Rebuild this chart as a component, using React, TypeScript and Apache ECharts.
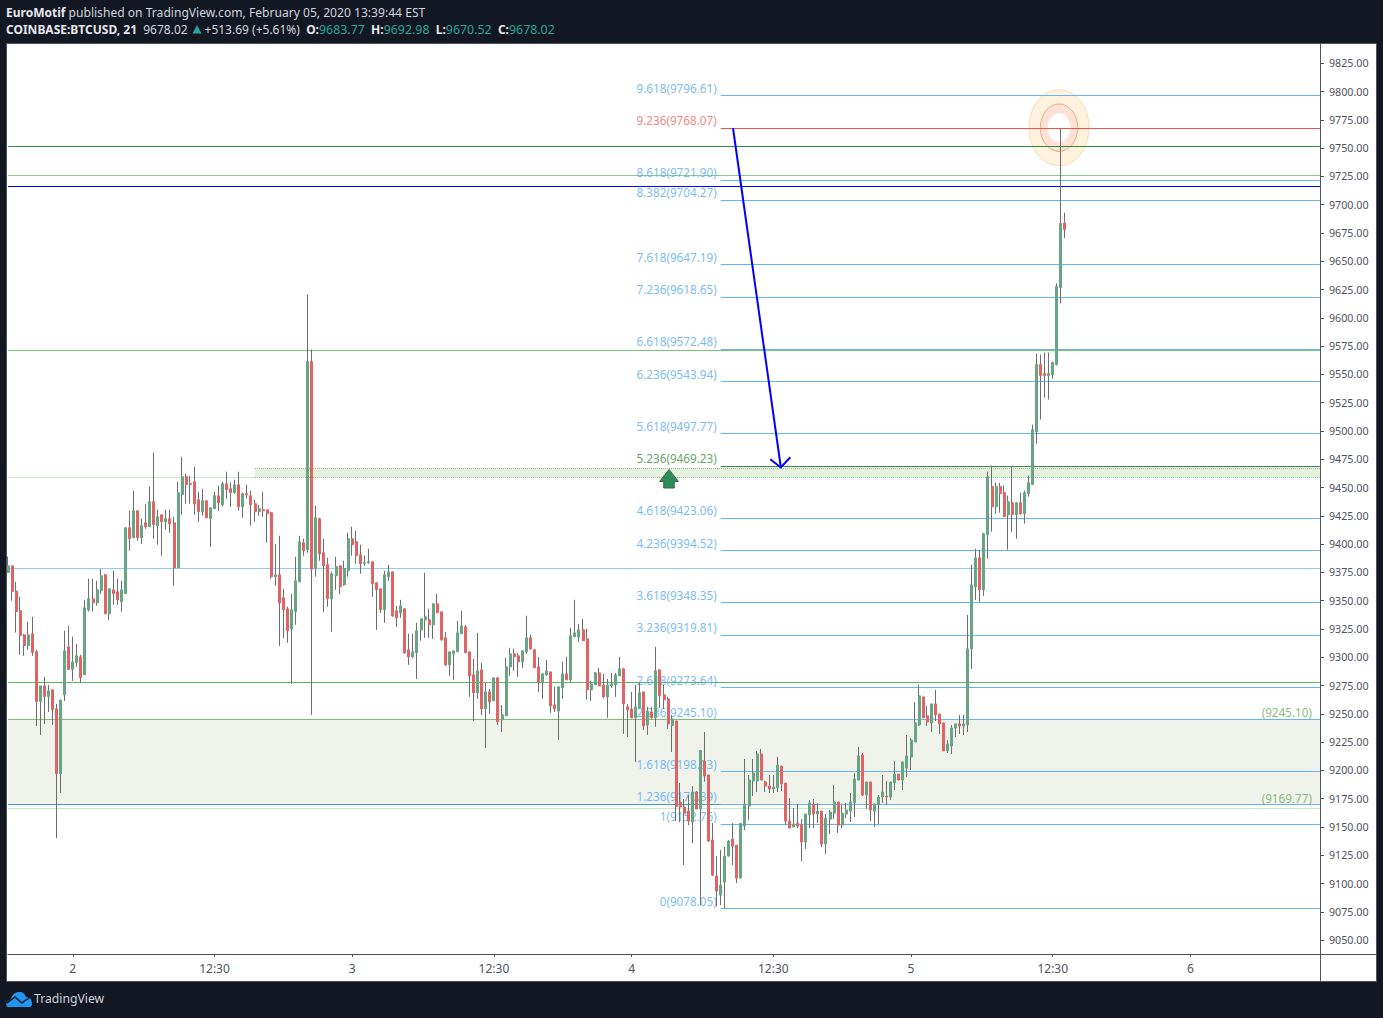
import React, { useEffect, useRef } from "react";
import * as echarts from "echarts";

const slotCount = 325;
const xTickLabels: Record<number, string> = { 16: "2", 51: "12:30", 85: "3", 120: "12:30", 154: "4", 189: "12:30", 223: "5", 258: "12:30", 292: "6" };
const yTicks = [9050, 9075, 9100, 9125, 9150, 9175, 9200, 9225, 9250, 9275, 9300, 9325, 9350, 9375, 9400, 9425, 9450, 9475, 9500, 9525, 9550, 9575, 9600, 9625, 9650, 9675, 9700, 9725, 9750, 9775, 9800, 9825];

const opens = [
  9375,9380.9,9358.5,9341.1,9319.8,9310.4,9320.7,9304.8,9260.9,9274.7,
  9265.3,9271.2,9254.4,9197.2,9266.8,9309.2,9289.2,9295.4,9300.4,9284.7,
  9342,9351.7,9348.1,9359.1,9372.9,9338.4,9359.6,9357.9,9349,9356.4,
  9414.5,9405.7,9429.5,9405.7,9418.9,9415.4,9437.5,9416.3,9426,9419.8,
  9422.5,9418.9,9379.1,9443.7,9459.6,9453.4,9455.2,9439.3,9428.7,9438.4,
  9422.5,9431.3,9442.8,9434.8,9453.4,9449,9445.5,9452.5,9433.1,9444.6,
  9442.8,9435.7,9428.7,9430.4,9430.4,9427.8,9371.2,9372.9,9352.6,9342.8,
  9325.1,9340.2,9366.7,9401.2,9395,9561.4,9378.2,9422.5,9392.4,9381.8,
  9351.7,9372,9380.9,9364.1,9376.5,9404.8,9402.1,9390.6,9383,9383.6,
  9384.4,9365.9,9360.6,9342,9371.2,9375.6,9341.1,9339.3,9342.9,9306.6,
  9300.4,9303.9,9324.3,9333.1,9333.1,9328.7,9347.3,9340.2,9317.2,9293.3,
  9303.1,9304.8,9320.8,9326.9,9304.8,9284.5,9268.6,9288.9,9254.4,9269.4,
  9261.5,9281.8,9244.7,9248.2,9291.6,9303.1,9301.3,9296,9304.8,9317.2,
  9306.6,9291.6,9278.3,9284.5,9287.1,9257.9,9252.6,9273,9285.4,9280.1,
  9318.1,9318.1,9324.3,9316.3,9271.2,9275.6,9286.2,9275.6,9265,9274.7,
  9275.6,9283.6,9289.8,9256.2,9254.4,9246.4,9255.3,9269.4,9240.2,9251.7,
  9246.4,9288.9,9266.8,9263.2,9239.6,9243.7,9172.1,9167.7,9164.1,9154.4,
  9180.9,9165.9,9208.3,9196,9138.5,9106.6,9089.8,9101.3,9124.3,9139.3,
  9134,9104.8,9150.8,9168.5,9190.7,9190.7,9214.5,9189.8,9186.2,9183.6,
  9184.5,9203.9,9188.9,9155.3,9150,9153.2,9151.7,9136.7,9160.6,9170.3,
  9161.5,9164.1,9134.9,9157,9162.3,9172.1,9151.7,9161.5,9164.1,9171.2,
  9191.5,9213.7,9178.3,9189.8,9164.1,9169.4,9176.5,9177.4,9176.5,9188.9,
  9196.8,9191.5,9202.2,9211.9,9225.2,9240.2,9265,9248.2,9242,9258.8,
  9249.9,9242,9217.2,9221.6,9237.5,9241.1,9239.3,9240.2,9307.4,9362.3,
  9387.9,9359.6,9408.3,9450.8,9433.1,9450.8,9445.5,9426,9436.6,9426,
  9436.6,9426.9,9444.6,9452.6,9499.4,9558.7,9550.8,9549,9549.9,9558.7,9626.8,9683.77,
];
const closes = [
  9380.9,9358.2,9340.5,9319.2,9310.4,9319.8,9304.2,9260.9,9274.7,9265.3,
  9270.3,9253.8,9197.2,9262.3,9305.7,9289.2,9295.9,9301.3,9282.1,9343.7,
  9351.7,9348.1,9359.6,9372,9338.4,9360.5,9356.4,9350.8,9359.6,9414.5,
  9404.8,9429.5,9405.7,9416.3,9415.4,9437.5,9417.2,9424.2,9419.8,9422.5,
  9418,9379.1,9445.5,9459.6,9452.5,9452.8,9435.7,9428.7,9438.4,9423.3,
  9432.2,9442.8,9436.6,9453.4,9448.1,9445.5,9452.5,9433.1,9444.6,9443.7,
  9434.8,9428.7,9431.3,9429.5,9426.9,9371.2,9372.9,9348.1,9342,9323.4,
  9342,9367.6,9402.1,9394.2,9561.4,9377.9,9423.3,9391.5,9380.9,9351.7,
  9373.8,9380,9362.3,9378.6,9404.8,9399.5,9389.8,9382.7,9383.6,9384.4,
  9365,9359.7,9342,9372.9,9375.6,9336.7,9334.9,9345.5,9303.9,9300.4,
  9304.8,9323.4,9334,9335.8,9328.7,9347.3,9339.3,9315.4,9293.3,9304.8,
  9305.7,9321.6,9327.8,9303.9,9283.6,9268.6,9288,9254.4,9269.4,9260.6,
  9281.8,9242.9,9249.1,9291.6,9303.1,9300.4,9296,9305.7,9317.2,9307.5,
  9290.7,9278.3,9285.4,9288,9257.1,9254.4,9273.9,9285.4,9280.1,9319,
  9321.6,9324.3,9314.6,9271.2,9276.5,9286.2,9274.7,9265,9275.6,9276.5,
  9284.5,9289.8,9258.8,9253.5,9246.4,9256.2,9268.6,9239.4,9252.6,9246.4,
  9288,9265.9,9262.4,9241.1,9245.5,9167.9,9167.7,9162.3,9155.3,9180.9,
  9165.9,9217.5,9195.1,9137.6,9107.5,9093.3,9098.6,9124.3,9137.6,9133.1,
  9104.8,9153.2,9170.3,9191.5,9197.7,9214.5,9191.5,9186.2,9183.6,9185.3,
  9204.8,9188,9155.3,9149.1,9152.6,9150.8,9136.7,9161.5,9171.2,9161.5,
  9164.1,9134.9,9157.9,9163.2,9172.1,9151.7,9162.3,9165,9172.1,9192.4,
  9212.8,9178.3,9189.8,9165,9170.3,9176.5,9180.9,9176.5,9189.8,9196.8,
  9191.5,9207.5,9212.8,9226.9,9242,9265.9,9246.4,9242.8,9258.8,9249,
  9241.1,9217.2,9223.4,9237.5,9241.1,9239.3,9241.1,9307.4,9364,9387.9,
  9359.6,9409.2,9459.6,9433.1,9450.8,9444.6,9424.3,9437.5,9426,9436.6,
  9426.9,9445.5,9454.3,9501.2,9558.7,9549,9549,9550.8,9560.5,9627.7,9683.5,9678.02,
];
const lows = [
  9375,9349.9,9321.9,9302.1,9301.3,9306.6,9301.3,9239.3,9231.4,9241.1,
  9251.7,9240.2,9140.2,9180.1,9261.4,9288.9,9279.1,9291.5,9277.4,9284.7,
  9340.5,9340.5,9345.5,9356.1,9338.4,9333.1,9346.4,9346.4,9340.2,9356.4,
  9394.2,9405.7,9403,9400.3,9413.6,9415.4,9404.8,9399.5,9389.7,9412.7,
  9410.1,9363.2,9379.1,9426,9435.7,9435.7,9426,9419.8,9425.1,9423.3,
  9397.7,9431.3,9429.5,9433.1,9440.2,9433.1,9444.6,9429.5,9423.3,9440.2,
  9416.3,9419.8,9425.1,9424.2,9401.2,9369.4,9363.2,9310.1,9317.2,9312.8,
  9276.5,9328.7,9366.7,9389.7,9392.4,9249.1,9371.2,9385.3,9340.2,9344.6,
  9322.5,9359.6,9356.1,9363.2,9371.2,9389.8,9382.7,9373.8,9380.9,9382.7,
  9353.5,9324.3,9339.3,9330.5,9367.6,9335.8,9326.9,9334.9,9303.1,9293.3,
  9299.5,9280.9,9314.6,9317.2,9317.2,9316.3,9339.3,9314.6,9292.4,9283.6,
  9280.1,9304.8,9320.8,9303.9,9265,9243.8,9263.2,9249.1,9219.9,9250,
  9261.5,9240.2,9234,9248.2,9283.6,9288,9282.7,9290.7,9303.1,9306.6,
  9290.7,9269.4,9263.2,9283.6,9250.9,9251.7,9227,9263.2,9280.1,9278.3,
  9318.1,9313.7,9314.6,9262.4,9261.5,9275.6,9274.7,9264.1,9246.4,9273,
  9265,9283.6,9232.3,9229.6,9246.4,9207.5,9254.4,9235.8,9231.4,9245.6,
  9238.5,9255.3,9254.4,9236.7,9216.3,9155.3,9154.4,9116.3,9151.7,9135.8,
  9165.9,9080.9,9190,9136.7,9106.6,9080.1,9080.9,9078,9124,9116.3,
  9100.4,9104.8,9147.3,9156.1,9177.4,9180.9,9191.5,9180.9,9180,9180,
  9180.9,9181.8,9151.7,9149.1,9150,9149.1,9119.9,9130.5,9149.1,9149.1,
  9153.5,9132.3,9126.1,9143.8,9157,9144.6,9149.1,9157.9,9154.4,9158.8,
  9191.5,9177.4,9165.9,9155.3,9150,9152.6,9171.2,9169.4,9173.8,9182.7,
  9191.5,9182.7,9194.2,9200.4,9225.2,9239.3,9246.4,9239.3,9234,9243.7,
  9232.2,9217.2,9215.4,9214.5,9229.6,9232.2,9231.3,9234,9289.7,9350.8,
  9349,9354.3,9387.1,9411,9426.9,9427.8,9424.3,9395.1,9411,9404.8,
  9426,9418.1,9441.9,9452.6,9488.8,9510.1,9529.5,9527.8,9546.3,9557.8,9612.7,9670.52,
];
const highs = [
  9389.1,9380.9,9366.7,9353.5,9320.7,9331.3,9335.8,9306.6,9274.7,9282.7,
  9275.6,9271.2,9258.8,9262.3,9323.4,9327.8,9318.1,9311.9,9302.1,9350.8,
  9369.4,9369.4,9367.6,9378.2,9373.8,9360.5,9376.5,9369.4,9367.6,9414.5,
  9429.5,9447.2,9429.5,9422.5,9435.7,9450.8,9480.9,9430.4,9426,9430.4,
  9430.4,9424.2,9455.2,9477.3,9462.3,9460.5,9468.5,9446.3,9449,9438.4,
  9432.2,9446.3,9451.7,9455.2,9464,9454.3,9457,9464,9445.5,9452.5,
  9447.2,9439.3,9434.8,9446.3,9430.4,9428.7,9400.3,9407.4,9360.5,9344.6,
  9356.1,9388.8,9407.4,9404.8,9620.6,9572,9434,9423.3,9404.8,9388,
  9375.6,9388.8,9380.9,9385.3,9410.1,9415.4,9411.9,9399.5,9389.8,9395.9,
  9384.4,9365.9,9360.6,9376.5,9381.8,9375.6,9345.5,9350.8,9342.9,9320.8,
  9320.8,9330.5,9334,9374.7,9342.9,9347.3,9356.1,9340.2,9322.5,9304.8,
  9305.7,9332.3,9341.1,9328.7,9304.8,9298.6,9321.6,9295.1,9277.4,9272.1,
  9281.8,9282.7,9257.9,9299.5,9308.4,9307.5,9303.9,9305.7,9336.7,9319.9,
  9307.5,9300.4,9286.2,9297.7,9287.1,9273.9,9273.9,9296,9300.4,9326.1,
  9350.8,9329.6,9334,9325.2,9279.2,9287.1,9290.7,9285.4,9280.9,9286.2,
  9286.2,9300.4,9290.7,9258.8,9269.4,9275.6,9277.4,9269.4,9256.2,9256.2,
  9309.3,9288.9,9275.6,9265,9249,9243.7,9188.9,9174.7,9178.3,9186.2,
  9181.8,9218.1,9234,9196,9153.5,9124.3,9129.6,9132.3,9138.5,9153.5,
  9134,9153.2,9210.1,9196,9210.1,9217.2,9219,9190.7,9196,9196,
  9211.9,9203.9,9188.9,9175.6,9166.8,9170.3,9157,9161.5,9173.8,9174.7,
  9171.2,9164.1,9161.5,9165,9187.1,9172.1,9169.4,9171.2,9180,9197.7,
  9220.7,9215.4,9189.8,9189.8,9170.3,9178.3,9196,9190.7,9189.8,9208.3,
  9196.8,9207.5,9231.3,9228.7,9260.5,9275.6,9265,9257,9258.8,9271.2,
  9249.9,9242,9226.9,9240.2,9241.1,9249,9249,9337.5,9381.7,9395.9,
  9395,9410,9464.1,9469.4,9454.3,9454.3,9451.7,9442.8,9468.5,9436.6,
  9445.5,9447.3,9460.5,9505.6,9568.5,9567.6,9569.3,9569.3,9561.4,9630.4,9768,9692.98,
];

const fibRatios = ["9.618", "9.236", "8.618", "8.382", "7.618", "7.236", "6.618", "6.236", "5.618", "5.236", "4.618", "4.236", "3.618", "3.236", "2.618", "2.236", "1.618", "1.236", "1", "0"];
const fibPrices = [9796.61, 9768.07, 9721.9, 9704.27, 9647.19, 9618.65, 9572.48, 9543.94, 9497.77, 9469.23, 9423.06, 9394.52, 9348.35, 9319.81, 9273.64, 9245.1, 9198.93, 9170.39, 9152.76, 9078.05];
const fibAccent: Record<string, string> = { "9.236": "#f2504f", "5.236": "#388e3c" };
const fibLabelAccent: Record<string, string> = { "9.236": "#f26460", "5.236": "#388e3c" };
const fibLineNudge: Record<string, number> = { "9.236": -0.6 };

const hLevels: [number, string][] = [
  [9751.45, "#2e8b36"],
  [9725.85, "#8cc98e"],
  [9716.15, "#0000ff"],
  [9570.95, "#78c47a"],
  [9378.45, "#90caf9"],
  [9277.75, "#5cb85c"],
  [9169.77, "#3f9fd0"],
  [9166.35, "#c8e8ca"],
];
const zonePrices = { mainTop: 9245.1, mainBottom: 9169.77, thinTop: 9466.85, thinBottom: 9458.95 };
const zoneLabelPrices = [9245.1, 9169.77];
const fibStart = 176;
const zoneStart = 61;
const lastSlot = slotCount - 1;
const FONT = "'Noto Sans', sans-serif";
const GRAPH_Z = 1;

echarts.graphic.registerShape(
  "tvLogo",
  echarts.graphic.extendPath("M2 15C0 15 0 11 1 10L5 7C6 3 9 0 13 0C17 0 19 2 20 5C24 5 26 8 26 12C26 14 25 15 23 15Z", {}) as any
);

export default function App() {
  const ref = useRef<HTMLDivElement>(null);
  useEffect(() => {
    const chart = echarts.init(ref.current!, null, { renderer: "svg" });
    const candles = opens.map((o, i) => [o, closes[i], lows[i], highs[i]]);
    const bodies = opens.map((o, i) => [o, closes[i], Math.min(o, closes[i]), Math.max(o, closes[i])]);
    const seg = (a: number, b: number, v: number, color: string, type: any = "solid") => [
      { coord: [a, v], lineStyle: { color, type, width: 1 } },
      { coord: [b, v] },
    ];
    const headerLine1 = "{b|EuroMotif} published on TradingView.com, February 05, 2020 13:39:44 EST";
    const headerLine2 = "{b|COINBASE:BTCUSD, 21}  9678.02{a|     }+513.69 (+5.61%)  {b|O:}{t|9683.77}  {b|H:}{t|9692.98}  {b|L:}{t|9670.52}  {b|C:}{t|9678.02}";
    const headRich = {
      b: { fontWeight: "bold", fill: "#e6e8ee", fontSize: 12, fontFamily: FONT },
      t: { fill: "#26a69a", fontSize: 12.4, fontFamily: FONT },
      a: { fill: "#26a69a", fontSize: 13, fontFamily: FONT },
    };
    chart.setOption({
      animation: false,
      backgroundColor: "#131722",
      grid: { left: 8, top: 44, width: 1312, height: 910, containLabel: false },
      xAxis: {
        type: "category",
        boundaryGap: false,
        data: Array.from({ length: slotCount }, (_, i) => String(i)),
        axisLine: { lineStyle: { color: "#50535e" } },
        axisTick: { length: 3, interval: (i: number) => i in xTickLabels, lineStyle: { color: "#50535e" } },
        axisLabel: {
          interval: (i: number) => i in xTickLabels,
          formatter: (_: string, i: number) => xTickLabels[i] ?? "",
          color: "#50535e",
          fontSize: 12,
          fontFamily: FONT,
          margin: 8,
          hideOverlap: false,
        },
        splitLine: { show: false },
      },
      yAxis: {
        type: "value",
        position: "right",
        min: 9037.75,
        max: 9842.05,
        axisLine: { show: true, lineStyle: { color: "#50535e" } },
        axisTick: { show: true, length: 4, customValues: yTicks, lineStyle: { color: "#50535e" } },
        axisLabel: {
          customValues: yTicks,
          formatter: (v: number) => v.toFixed(2),
          color: "#50535e",
          fontSize: 10.7,
          fontFamily: FONT,
          margin: 9,
          padding: [1, 0, 0, 0],
        },
        splitLine: { show: false },
      },
      series: [
        {
          name: "levels",
          type: "line",
          data: [],
          z: 1,
          silent: true,
          markArea: {
            silent: true,
            z: 1,
            data: [
              [{ coord: [0, zonePrices.mainTop], itemStyle: { color: "#eff3ec" } }, { coord: [lastSlot, zonePrices.mainBottom] }],
              [{ coord: [zoneStart, zonePrices.thinTop], itemStyle: { color: "#e6f0df" } }, { coord: [lastSlot, zonePrices.thinBottom] }],
            ],
          },
          markLine: {
            silent: true,
            symbol: "none",
            z: 1,
            label: { show: false },
            data: [
              seg(0, lastSlot, zonePrices.mainTop, "#7fbd72"),
              seg(0, lastSlot, zonePrices.mainBottom, "#7fbd72"),
              seg(zoneStart, lastSlot, zonePrices.thinTop, "#8cc47f", "dotted"),
              seg(zoneStart, lastSlot, zonePrices.thinBottom, "#8cc47f", "dotted"),
              seg(0, zoneStart, zonePrices.thinBottom, "#cfe6cf"),
              ...hLevels.map(([v, c]) => seg(0, lastSlot, v, c)),
              ...fibPrices.map((v, i) => seg(fibStart, lastSlot, v + (fibLineNudge[fibRatios[i]] ?? 0), fibAccent[fibRatios[i]] ?? "#64b5f6")),
            ],
          },
        },
        {
          name: "fib labels",
          type: "scatter",
          z: 1,
          silent: true,
          symbolSize: 0,
          data: fibPrices.map((v, i) => ({
            value: [fibStart, v],
            label: {
              show: true,
              position: "left",
              distance: 4,
              offset: [0, -7.6],
              formatter: `${fibRatios[i]}(${v.toFixed(2)})`,
              color: fibLabelAccent[fibRatios[i]] ?? "#55aaf2",
              fontSize: 11.7,
              fontFamily: FONT,
            },
          })),
        },
        {
          name: "zone labels",
          type: "scatter",
          z: 1,
          silent: true,
          symbolSize: 0,
          data: zoneLabelPrices.map((v) => ({
            value: [322, v],
            label: {
              show: true,
              position: "left",
              distance: 0,
              offset: [0, -7],
              formatter: `(${v.toFixed(2)})`,
              color: "#69a957",
              fontSize: 11.7,
              fontFamily: FONT,
            },
          })),
        },
        {
          name: "wicks",
          type: "candlestick",
          z: 3,
          barWidth: 1,
          silent: true,
          data: candles,
          itemStyle: { color: "#6e6e70", color0: "#6e6e70", borderColor: "#6e6e70", borderColor0: "#6e6e70", borderWidth: 1 },
        },
        {
          name: "BTCUSD",
          type: "candlestick",
          z: 4,
          barWidth: 2.5,
          silent: true,
          data: bodies,
          itemStyle: { color: "#68a584", color0: "#e06464", borderColor: "#68a584", borderColor0: "#e06464", borderWidth: 1 },
        },
      ],
      graphic: [
        { type: "rect", z: -1, silent: true, shape: { x: 6.5, y: 43.5, width: 1370, height: 938 }, style: { fill: "#ffffff", stroke: "#50535e", lineWidth: 1 } },
        { type: "line", z: 6, silent: true, shape: { x1: 1320.5, y1: 954, x2: 1320.5, y2: 981 }, style: { stroke: "#50535e", lineWidth: 1 } },
        { type: "line", z: 6, silent: true, shape: { x1: 1320, y1: 954.5, x2: 1376, y2: 954.5 }, style: { stroke: "#50535e", lineWidth: 1 } },
        // target rings
        { type: "ring", z: GRAPH_Z, silent: true, x: 1059, y: 127.7, scaleY: 1.27, shape: { cx: 0, cy: 0, r: 30, r0: 18.7 }, style: { fill: "rgba(255,224,178,0.42)" } },
        { type: "ring", z: GRAPH_Z, silent: true, x: 1059, y: 127.7, scaleY: 1.27, shape: { cx: 0, cy: 0, r: 18.7, r0: 11.3 }, style: { fill: "rgba(248,187,160,0.42)" } },
        { type: "ellipse", z: GRAPH_Z, silent: true, shape: { cx: 1059, cy: 127.7, rx: 30, ry: 38 }, style: { fill: "none", stroke: "#fddcb0", lineWidth: 1 } },
        { type: "ellipse", z: GRAPH_Z, silent: true, shape: { cx: 1059, cy: 127.7, rx: 18.7, ry: 23.7 }, style: { fill: "none", stroke: "#f6a77e", lineWidth: 1 } },
        // blue arrow
        { type: "line", z: 5, silent: true, shape: { x1: 733, y1: 128, x2: 780.8, y2: 467 }, style: { stroke: "#0000ff", lineWidth: 2 } },
        { type: "polyline", z: 5, silent: true, shape: { points: [[770.3, 459.3], [780.8, 467.5], [790.3, 457.3]] }, style: { stroke: "#0000ff", lineWidth: 2, fill: "none" } },
        // green up arrow
        {
          type: "polygon", z: 5, silent: true,
          shape: { points: [[669, 469.5], [678.5, 481.5], [674.3, 481.5], [674.3, 488], [663.7, 488], [663.7, 481.5], [659.5, 481.5]] },
          style: { fill: "#2e8b57", stroke: "#3a6b4a", lineWidth: 1 },
        },
        // header
        { type: "text", z: 6, silent: true, x: 6, y: 6, style: { text: headerLine1, rich: headRich, fill: "#d1d4dc", fontSize: 12.1, fontFamily: FONT } },
        { type: "text", z: 6, silent: true, x: 6, y: 23, style: { text: headerLine2, rich: headRich, fill: "#d1d4dc", fontSize: 12, fontFamily: FONT } },
        { type: "polygon", z: 6, silent: true, shape: { points: [[192.5, 33.5], [197, 25], [201.5, 33.5]] }, style: { fill: "#26a69a" } },
        // logo
        { type: "tvLogo", z: 6, silent: true, x: 6, y: 992, style: { fill: "#2196f3" } },
        { type: "polyline", z: 6, silent: true, shape: { points: [[7, 1003], [15, 997], [21.7, 1003], [30, 997]] }, style: { stroke: "#131722", lineWidth: 1.5, fill: "none" } },
        { type: "text", z: 6, silent: true, x: 34, y: 992.5, style: { text: "TradingView", fill: "#d1d4dc", fontSize: 12.2, fontFamily: FONT } },
      ],
    });
    return () => chart.dispose();
  }, []);
  return <div ref={ref} style={{ position: "absolute", left: 0, top: 0, width: 1383, height: 1018 }} />;
}
